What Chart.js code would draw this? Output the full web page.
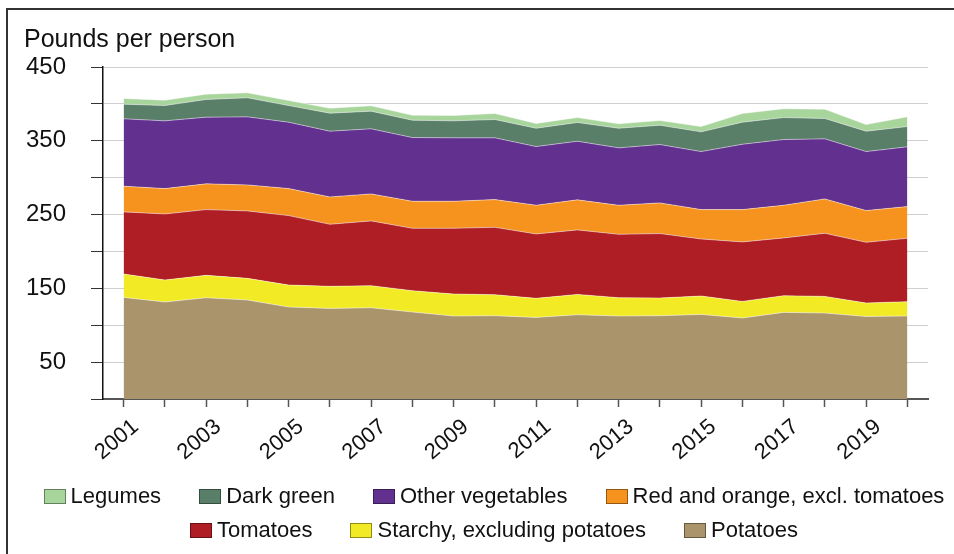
<!DOCTYPE html>
<html>
<head>
<meta charset="utf-8">
<script src="https://cdn.jsdelivr.net/npm/chart.js@4.4.1/dist/chart.umd.min.js"></script>
<style>
  html, body { margin: 0; padding: 0; background: #fff; }
  body { width: 954px; height: 554px; position: relative; overflow: hidden; font-family: 'Liberation Sans', Arial, sans-serif; }
  #frame { position: absolute; left: 6px; top: 8px; width: 1000px; height: 600px; border-left: 2px solid #333; border-top: 2px solid #333; }
  #chartWrap { position: absolute; left: 0; top: 0; width: 954px; height: 554px; }
  #legend { position: absolute; left: 17px; top: 479px; width: 954px; }
  .legend-row { display: flex; justify-content: center; gap: 38px; height: 34px; align-items: center; }
  .legend-item { display: flex; align-items: center; font-size: 22px; color: #111; white-space: nowrap; }
  .legend-box { width: 20px; height: 13px; border: 1px solid rgba(0,0,0,0.4); margin-right: 5px; }
</style>
</head>
<body>
<div id="frame"></div>
<div id="chartWrap"><canvas id="vegChart" width="954" height="554"></canvas></div>
<div id="legend"></div>
<script>
// Vegetable availability, pounds per person (stacked, bottom to top)
const years = ['2001', '2002', '2003', '2004', '2005', '2006', '2007', '2008', '2009', '2010',
               '2011', '2012', '2013', '2014', '2015', '2016', '2017', '2018', '2019', '2020'];

const potatoes  = [137.7, 131.5, 137.3, 134.2, 124.7, 122.8, 123.7, 117.9, 112.5, 112.9, 110.6, 114.2, 112.5, 112.9, 114.7, 109.8, 117.4, 116.5, 111.9, 112.5];
const starchy   = [31.7, 29.8, 30.3, 29.3, 29.8, 29.9, 29.9, 28.9, 29.8, 28.5, 25.8, 27.6, 24.8, 24.0, 24.9, 22.5, 22.6, 22.6, 18.2, 19.4];
const tomatoes  = [84.2, 89.5, 89.1, 91.4, 94.1, 84.1, 87.8, 84.6, 89.1, 91.3, 87.3, 87.4, 85.9, 87.3, 77.3, 80.6, 78.3, 85.5, 82.3, 85.9];
const redOrange = [34.8, 34.4, 34.9, 35.3, 36.6, 37.1, 36.6, 36.6, 36.6, 37.6, 38.9, 40.7, 39.4, 41.6, 39.8, 43.8, 44.3, 46.6, 43.0, 43.0];
const otherVeg  = [91.4, 91.8, 90.4, 92.2, 90.0, 89.1, 88.2, 86.4, 86.0, 83.7, 79.6, 79.5, 77.8, 79.1, 78.7, 88.6, 89.1, 81.4, 80.0, 81.0];
const darkGreen = [19.8, 20.8, 24.0, 25.9, 22.6, 24.4, 23.9, 23.5, 23.0, 24.8, 24.8, 25.4, 26.6, 26.2, 26.7, 29.9, 29.8, 27.6, 27.6, 27.5];
const legumes   = [7.7, 7.2, 7.2, 6.7, 6.8, 6.8, 7.3, 6.8, 7.3, 8.2, 6.4, 6.7, 6.0, 6.4, 7.2, 11.8, 11.9, 12.6, 9.0, 13.2];

const seriesNames  = ['Potatoes', 'Starchy, excluding potatoes', 'Tomatoes', 'Red and orange, excl. tomatoes',
                      'Other vegetables', 'Dark green', 'Legumes'];
const seriesValues = [potatoes, starchy, tomatoes, redOrange, otherVeg, darkGreen, legumes];
const seriesColors = ['#aa946b', '#f2ea24', '#ae1e24', '#f6921e', '#62318f', '#5a7f69', '#a8d59b'];

const yTickLabels = [50, 150, 250, 350, 450];

const fontFamily = "'Liberation Sans', Arial, sans-serif";

const datasets = seriesNames.map((name, i) => ({
    label: name,
    data: seriesValues[i],
    backgroundColor: seriesColors[i],
    borderColor: 'rgba(255,255,255,0.45)',
    borderWidth: 1,
    pointRadius: 0,
    tension: 0,
    fill: i === 0 ? 'origin' : '-1'
}));

const ctx = document.getElementById('vegChart').getContext('2d');

new Chart(ctx, {
    type: 'line',
    data: { labels: years, datasets: datasets },
    options: {
        responsive: false,
        animation: false,
        devicePixelRatio: 1,
        layout: { padding: { left: 24, right: 26, top: 12, bottom: 91 } },
        plugins: {
            legend: { display: false },   // html legend below
            tooltip: { enabled: false },
            title: {
                display: true,
                text: 'Pounds per person',
                align: 'start',
                color: '#111',
                font: { family: fontFamily, size: 25, weight: 'normal' },
                padding: { top: 13, bottom: 12 }
            }
        },
        scales: {
            x: {
                offset: true,
                // fixed axis box so the plot area lines up with the original
                afterFit: function (scale) {
                    scale.paddingLeft = 0;
                    scale.paddingRight = 0;
                    scale.height = 64;
                },
                grid: {
                    offset: false,
                    drawOnChartArea: false,
                    drawTicks: true,
                    tickLength: 8,
                    tickColor: '#555',
                    tickWidth: 1.5
                },
                border: { display: true, color: '#555', width: 2 },
                ticks: {
                    autoSkip: false,
                    minRotation: 40,
                    maxRotation: 40,
                    padding: 7,
                    labelOffset: 12,
                    color: '#111',
                    font: { family: fontFamily, size: 22 },
                    callback: function (value, index) {
                        return index % 2 === 0 ? years[index] : '';
                    }
                }
            },
            y: {
                stacked: true,
                min: 0,
                max: 450,
                afterFit: function (scale) {
                    scale.width = 79;
                },
                grid: {
                    color: '#cfcfcf',
                    lineWidth: 1,
                    tickColor: '#333',
                    tickLength: 12
                },
                border: { display: true, color: '#111', width: 1.5 },
                ticks: {
                    stepSize: 50,
                    padding: 25,
                    color: '#111',
                    font: { family: fontFamily, size: 24 },
                    callback: function (value) {
                        return yTickLabels.includes(value) ? value : '';
                    }
                }
            }
        }
    }
});

// Legend (top layer listed first, two rows like the original)
const legendEl = document.getElementById('legend');
const order = seriesNames.map((n, i) => i).reverse();
[order.slice(0, 4), order.slice(4)].forEach(rowIdx => {
    const row = document.createElement('div');
    row.className = 'legend-row';
    rowIdx.forEach(i => {
        const item = document.createElement('div');
        item.className = 'legend-item';
        const box = document.createElement('span');
        box.className = 'legend-box';
        box.style.background = seriesColors[i];
        item.appendChild(box);
        item.appendChild(document.createTextNode(seriesNames[i]));
        row.appendChild(item);
    });
    legendEl.appendChild(row);
});
</script>
</body>
</html>
